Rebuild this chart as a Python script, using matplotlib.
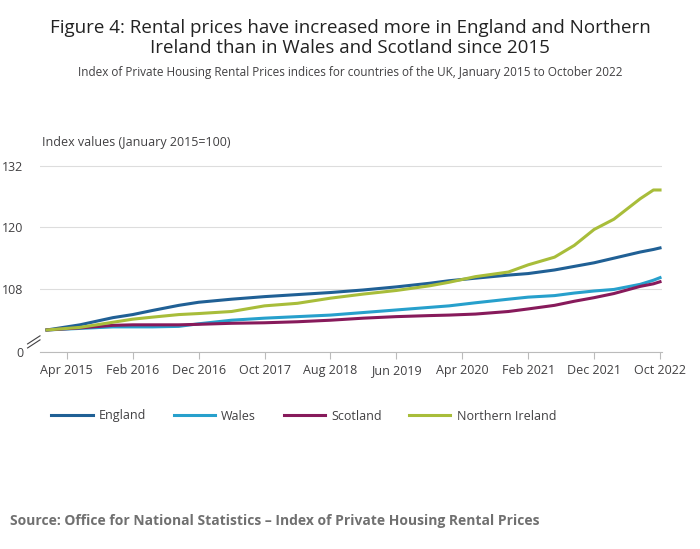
import numpy as np
import matplotlib.pyplot as plt

# months since January 2015
months = [0, 5, 10, 13, 16, 20, 23, 28, 33, 38, 43, 48, 53, 58, 61, 65, 70, 73, 77, 80, 83, 86, 88, 90, 92, 93]
england = [100, 101.0, 102.4, 103.0, 103.8, 104.8, 105.4, 106.0, 106.5, 106.9, 107.3, 107.8, 108.4, 109.1, 109.6, 110.1, 110.7, 111.0, 111.7, 112.4, 113.1, 114.0, 114.6, 115.2, 115.7, 116.0]
wales = [100, 100.3, 100.6, 100.6, 100.6, 100.7, 101.2, 101.9, 102.3, 102.6, 102.9, 103.4, 103.9, 104.4, 104.7, 105.3, 106.0, 106.4, 106.7, 107.2, 107.6, 107.9, 108.4, 108.9, 109.7, 110.2]
scotland = [100, 100.4, 100.9, 101.0, 101.0, 101.0, 101.1, 101.3, 101.4, 101.6, 101.9, 102.3, 102.6, 102.8, 102.9, 103.1, 103.6, 104.1, 104.8, 105.6, 106.3, 107.1, 107.8, 108.5, 109.0, 109.4]
n_ireland = [100, 100.5, 101.5, 102.1, 102.5, 103.0, 103.2, 103.6, 104.7, 105.2, 106.2, 107.0, 107.7, 108.6, 109.3, 110.4, 111.3, 112.7, 114.2, 116.5, 119.6, 121.6, 123.6, 125.6, 127.3, 127.3]
tick_months = [3, 13, 23, 33, 43, 53, 63, 73, 83, 93]
tick_labels = ["Apr 2015", "Feb 2016", "Dec 2016", "Oct 2017", "Aug 2018", "Jun 2019",
               "Apr 2020", "Feb 2021", "Dec 2021", "Oct 2022"]

plt.rcParams['font.family'] = ['Open Sans', 'DejaVu Sans']
fig = plt.figure(figsize=(7, 5.49), dpi=100)
ax = fig.add_axes([40/700, 1-352/549, 622/700, 202/549])

ax.plot(months, england, color="#206095", lw=2.2, label="England")
ax.plot(months, wales, color="#27a0cc", lw=2.2, label="Wales")
ax.plot(months, scotland, color="#871a5b", lw=2.2, label="Scotland")
ax.plot(months, n_ireland, color="#a8bd3a", lw=2.2, label="Northern Ireland")

ax.set_xlim(-1.06, 93.3)
ax.set_ylim(95.7, 135.1)
ax.set_yticks([95.7, 108, 120, 132])
ax.set_yticklabels(["0", "108", "120", "132"])
ax.set_xticks(tick_months)
ax.set_xticklabels(tick_labels)
ax.tick_params(axis="y", length=0, labelsize=9, colors="#414042", pad=12)
ax.tick_params(axis="x", length=5, color="#bbbbbb", labelsize=9, labelcolor="#414042")
ax.grid(axis="y", color="#dddddd", lw=0.8)
for s in ["top", "right", "left"]:
    ax.spines[s].set_visible(False)
ax.spines["bottom"].set_color("#bbbbbb")

# axis break marker
for dy in (0, 0.02):
    ax.plot([-0.02, 0.0], [0.02 + dy, 0.06 + dy], transform=ax.transAxes,
            color="#414042", lw=0.8, clip_on=False)

fig.text(0.5, 0.965, "Figure 4: Rental prices have increased more in England and Northern\nIreland than in Wales and Scotland since 2015",
         ha="center", va="top", fontsize=13.5, color="#222222", linespacing=1.1)
fig.text(0.5, 0.88, "Index of Private Housing Rental Prices indices for countries of the UK, January 2015 to October 2022",
         ha="center", va="top", fontsize=8.5, color="#414042")
fig.text(42/700, 1-143/549, "Index values (January 2015=100)", ha="left", va="center",
         fontsize=9, color="#414042")
fig.legend(loc="center left", bbox_to_anchor=(40/700, 1-416/549), ncol=4, frameon=False,
           fontsize=9, handlelength=3.3, handletextpad=0.5, columnspacing=2.2, labelcolor="#414042")
fig.text(10/700, 1-521/549, "Source: Office for National Statistics – Index of Private Housing Rental Prices",
         ha="left", va="center", fontsize=10, fontweight="bold", color="#707070")

fig.savefig("out.png", dpi=100)
